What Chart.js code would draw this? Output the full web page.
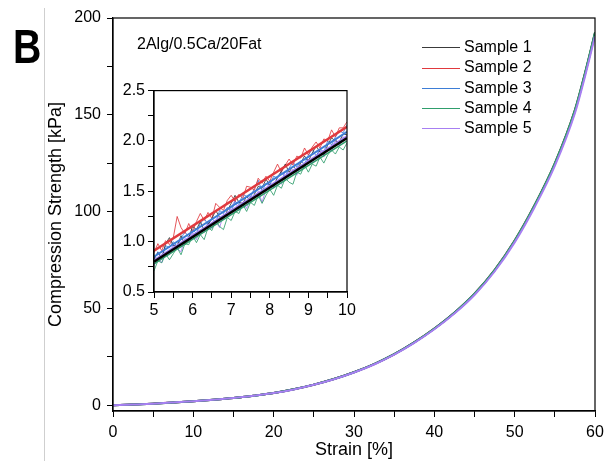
<!DOCTYPE html>
<html>
<head>
<meta charset="utf-8">
<script src="https://cdn.jsdelivr.net/npm/chart.js@4"></script>
<style>
  body { margin: 0; background: #fff; font-family: "Liberation Sans", Arial, sans-serif; }
  #wrap { position: relative; width: 615px; height: 461px; overflow: hidden; background: #fff; }
  #main { position: absolute; left: 0; top: 0; }
  #inset { position: absolute; left: 110px; top: 78px; }
  #sep { position: absolute; left: 44px; top: 8px; width: 1px; height: 453px; background: #cfcfcf; }
  #panel { position: absolute; left: 13px; top: 22px; font-size: 49px; font-weight: bold; line-height: 48px;
           transform: scaleX(0.8); transform-origin: left top; color: #000; }
  #note { position: absolute; left: 137px; top: 34px; font-size: 16px; line-height: 20px; color: #000; }
  #legend { position: absolute; left: 422px; top: 37px; font-size: 16px; color: #000; }
  #legend div { height: 20.25px; line-height: 20.25px; white-space: nowrap; }
  #legend span.sw { display: inline-block; width: 38px; height: 1px; vertical-align: middle; margin-right: 4px; }
</style>
</head>
<body>
<div id="wrap">
  <canvas id="main" width="615" height="461"></canvas>
  <canvas id="inset" width="250" height="240"></canvas>
  <div id="sep"></div>
  <div id="panel">B</div>
  <div id="note">2Alg/0.5Ca/20Fat</div>
  <div id="legend"></div>
</div>
<script>
// main curves: strain [%] vs compression strength [kPa]
const strain = [0, 2.5, 5, 7.5, 10, 12.5, 15, 17.5, 20, 22.5, 25, 27.5, 30, 32.5, 35, 37.5, 40, 42.5, 45, 47.5, 50, 52.5, 55, 57.5, 58.75, 60];
const sample1 = [0, 0.3, 0.8, 1.4, 2.05, 2.8, 3.7, 4.9, 6.3, 8.2, 10.6, 13.5, 17.0, 21.2, 26.3, 32.4, 39.5, 47.7, 57.4, 69.6, 84.8, 103.2, 124.6, 152.0, 171.0, 192.0];
const sample2 = [0, 0.32, 0.83, 1.43, 2.08, 2.83, 3.73, 4.93, 6.33, 8.23, 10.63, 13.55, 17.05, 21.25, 26.35, 32.5, 39.6, 47.8, 57.6, 69.8, 85.0, 103.5, 124.9, 152.4, 171.4, 192.4];
const sample3 = [0, 0.31, 0.81, 1.41, 2.06, 2.81, 3.71, 4.91, 6.31, 8.21, 10.61, 13.52, 17.02, 21.22, 26.32, 32.42, 39.52, 47.72, 57.45, 69.65, 84.85, 103.3, 124.7, 152.1, 171.1, 192.1];
const sample4 = [0, 0.3, 0.8, 1.4, 2.05, 2.8, 3.7, 4.9, 6.3, 8.22, 10.62, 13.53, 17.04, 21.25, 26.35, 32.47, 39.58, 47.8, 57.55, 69.8, 85.05, 103.5, 125.0, 152.6, 171.6, 192.6];
const sample5 = [0, 0.3, 0.8, 1.4, 2.04, 2.78, 3.67, 4.86, 6.25, 8.13, 10.52, 13.4, 16.87, 21.03, 26.1, 32.15, 39.2, 47.35, 56.95, 69.05, 84.1, 102.4, 123.6, 150.8, 169.7, 190.6];

// inset: raw data between 5 and 10 % strain
const insetStrain = [5.0, 5.1, 5.2, 5.3, 5.4, 5.5, 5.6, 5.7, 5.8, 5.9, 6.0, 6.1, 6.2, 6.3, 6.4, 6.5, 6.6, 6.7, 6.8, 6.9,
  7.0, 7.1, 7.2, 7.3, 7.4, 7.5, 7.6, 7.7, 7.8, 7.9, 8.0, 8.1, 8.2, 8.3, 8.4, 8.5, 8.6, 8.7, 8.8, 8.9,
  9.0, 9.1, 9.2, 9.3, 9.4, 9.5, 9.6, 9.7, 9.8, 9.9, 10.0];
const inset1 = [0.83, 0.89, 0.83, 0.98, 1.04, 0.96, 0.96, 1.06, 0.97, 1.04, 1.15, 1.12, 1.20, 1.11, 1.17, 1.23, 1.31, 1.24, 1.22, 1.31,
  1.38, 1.46, 1.39, 1.38, 1.45, 1.40, 1.47, 1.55, 1.53, 1.62, 1.56, 1.55, 1.64, 1.70, 1.77, 1.69, 1.75, 1.71, 1.78, 1.85,
  1.80, 1.88, 1.95, 1.89, 1.86, 1.96, 2.03, 2.00, 1.99, 2.07, 2.06];
const inset2 = [0.89, 0.98, 0.91, 1.01, 0.97, 1.04, 1.25, 1.14, 1.08, 1.18, 1.10, 1.20, 1.28, 1.21, 1.29, 1.23, 1.38, 1.34, 1.31, 1.41,
  1.46, 1.40, 1.47, 1.43, 1.55, 1.54, 1.51, 1.63, 1.58, 1.65, 1.60, 1.69, 1.77, 1.69, 1.76, 1.82, 1.76, 1.85, 1.83, 1.93,
  1.86, 1.94, 1.99, 1.93, 2.02, 2.00, 2.11, 2.04, 2.13, 2.13, 2.19];
const inset3 = [0.82, 0.90, 0.84, 0.96, 0.94, 1.00, 0.95, 1.03, 1.10, 1.04, 1.12, 1.08, 1.18, 1.23, 1.17, 1.23, 1.19, 1.31, 1.28, 1.34,
  1.30, 1.40, 1.37, 1.47, 1.45, 1.44, 1.53, 1.61, 1.50, 1.58, 1.56, 1.65, 1.63, 1.69, 1.64, 1.73, 1.79, 1.74, 1.80, 1.77,
  1.86, 1.92, 1.85, 1.92, 1.89, 2.00, 1.96, 2.04, 2.10, 2.08, 2.16];
const inset4 = [0.71, 0.81, 0.79, 0.88, 0.82, 0.88, 0.94, 0.87, 0.98, 0.97, 1.06, 0.99, 1.07, 1.02, 1.14, 1.11, 1.21, 1.15, 1.12, 1.24,
  1.21, 1.30, 1.28, 1.37, 1.30, 1.39, 1.36, 1.46, 1.38, 1.46, 1.52, 1.46, 1.56, 1.53, 1.63, 1.59, 1.57, 1.69, 1.67, 1.76,
  1.69, 1.77, 1.75, 1.84, 1.78, 1.86, 1.91, 1.87, 1.94, 1.91, 1.98];
const inset5 = [0.76, 0.84, 0.79, 0.89, 0.87, 0.97, 0.93, 0.90, 1.03, 1.01, 1.09, 1.02, 1.12, 1.09, 1.20, 1.13, 1.20, 1.14, 1.27, 1.25,
  1.34, 1.41, 1.31, 1.39, 1.33, 1.45, 1.42, 1.50, 1.39, 1.52, 1.59, 1.53, 1.61, 1.57, 1.70, 1.65, 1.72, 1.66, 1.76, 1.74,
  1.82, 1.78, 1.84, 1.91, 1.84, 1.93, 1.90, 2.02, 1.96, 2.04, 2.02];

// linear fits at 5 % and 10 % strain
const fitStrain = [5, 10];
const fitStart = [0.80, 0.91, 0.85, 0.78, 0.82];
const fitEnd = [2.03, 2.14, 2.09, 2.00, 2.05];

const names = ["Sample 1", "Sample 2", "Sample 3", "Sample 4", "Sample 5"];
const colors = ["#3a3a3a", "#e0393e", "#3d7dd6", "#2f9e6c", "#a77ff2"];
const insetColors = ["rgba(40,40,40,0.8)", "rgba(224,57,62,0.85)", "rgba(61,125,214,0.85)", "rgba(47,158,108,0.85)", "rgba(167,127,242,0.85)"];

const mainSeries = [sample1, sample2, sample3, sample4, sample5];
const insetSeries = [inset1, inset2, inset3, inset4, inset5];

const fontFamily = '"Liberation Sans", Arial, sans-serif';
Chart.defaults.font.family = fontFamily;
Chart.defaults.color = "#000";

// white plot area + black box
const frame = {
  id: "frame",
  beforeDraw(chart) {
    const a = chart.chartArea, c = chart.ctx;
    c.save();
    c.fillStyle = "#fff";
    c.fillRect(a.left, a.top, a.right - a.left, a.bottom - a.top);
    c.restore();
  },
  afterDraw(chart) {
    const a = chart.chartArea, c = chart.ctx;
    c.save();
    c.strokeStyle = "#000";
    c.lineWidth = 1.2;
    c.strokeRect(a.left, a.top, a.right - a.left, a.bottom - a.top);
    c.restore();
  }
};

function axis(opts) {
  return Object.assign({
    type: "linear",
    grid: { drawOnChartArea: false, drawTicks: true, tickLength: 6, color: "#000" },
    border: { display: true, color: "#000", width: 1.2 },
  }, opts);
}

// legend
const legend = document.getElementById("legend");
names.forEach((n, i) => {
  const row = document.createElement("div");
  row.innerHTML = '<span class="sw" style="background:' + colors[i] + '"></span>' + n;
  legend.appendChild(row);
});

// main chart
const mainOrder = [2, 4, 3, 1, 0];
new Chart(document.getElementById("main"), {
  type: "line",
  data: {
    datasets: mainSeries.map((s, i) => ({
      label: names[i],
      data: strain.map((x, j) => ({ x: x, y: s[j] })),
      borderColor: colors[i],
      borderWidth: 2,
      pointRadius: 0,
      cubicInterpolationMode: "monotone",
      order: mainOrder[i],
    })),
  },
  options: {
    responsive: false,
    animation: false,
    events: [],
    layout: { padding: { left: 45, top: 18, right: 20, bottom: 0 } },
    plugins: { legend: { display: false }, tooltip: { enabled: false } },
    scales: {
      x: axis({
        min: 0, max: 60,
        ticks: { stepSize: 5, autoSkip: false, maxRotation: 0, maxTicksLimit: 100, padding: 6,
                 font: { size: 16 }, color: "#000",
                 callback: (v) => (v % 10 === 0 ? v : "") },
        title: { display: true, text: "Strain [%]", font: { size: 18 }, color: "#000", padding: 0 },
        afterFit: (s) => { s.height = 50; },
      }),
      y: axis({
        min: -3, max: 200,
        ticks: { stepSize: 25, includeBounds: false, autoSkip: false, maxTicksLimit: 100, padding: 6,
                 font: { size: 16 }, color: "#000",
                 callback: (v) => (v % 50 === 0 ? v : "") },
        title: { display: true, text: "Compression Strength [kPa]", font: { size: 18 }, color: "#000", padding: 0 },
        afterFit: (s) => { s.width = 68; },
      }),
    },
  },
  plugins: [frame],
});

// inset chart
const insetData = insetSeries.map((s, i) => ({
  label: names[i],
  data: insetStrain.map((x, j) => ({ x: x, y: s[j] })),
  borderColor: insetColors[i],
  borderWidth: 1,
  pointRadius: 0,
  order: 1,
}));
const fitColors = ["#000", "#e0393e", "#3d7dd6", "#2f9e6c", "#a77ff2"];
const fitWidth = [2.5, 2.5, 2, 1.5, 1.5];
const fitOrder = [0, 0.1, 0.2, 0.3, 0.4];
const fitData = fitStart.map((y0, i) => ({
  label: names[i] + " fit",
  data: [{ x: fitStrain[0], y: y0 }, { x: fitStrain[1], y: fitEnd[i] }],
  borderColor: fitColors[i],
  borderWidth: fitWidth[i],
  pointRadius: 0,
  order: fitOrder[i],
}));

new Chart(document.getElementById("inset"), {
  type: "line",
  data: { datasets: insetData.concat(fitData) },
  options: {
    responsive: false,
    animation: false,
    events: [],
    layout: { padding: { left: 0, top: 12, right: 13, bottom: 0 } },
    plugins: { legend: { display: false }, tooltip: { enabled: false } },
    scales: {
      x: axis({
        min: 5, max: 10,
        ticks: { stepSize: 0.5, autoSkip: false, maxRotation: 0, padding: 3,
                 font: { size: 16 }, color: "#000",
                 callback: (v) => (Number.isInteger(v) ? v : "") },
        afterFit: (s) => { s.height = 26; },
      }),
      y: axis({
        min: 0.5, max: 2.5,
        ticks: { stepSize: 0.25, autoSkip: false, padding: 3,
                 font: { size: 16 }, color: "#000",
                 callback: (v) => (Math.abs(v * 2 - Math.round(v * 2)) < 1e-6 ? v.toFixed(1) : "") },
        afterFit: (s) => { s.width = 44; },
      }),
    },
  },
  plugins: [frame],
});
</script>
</body>
</html>
